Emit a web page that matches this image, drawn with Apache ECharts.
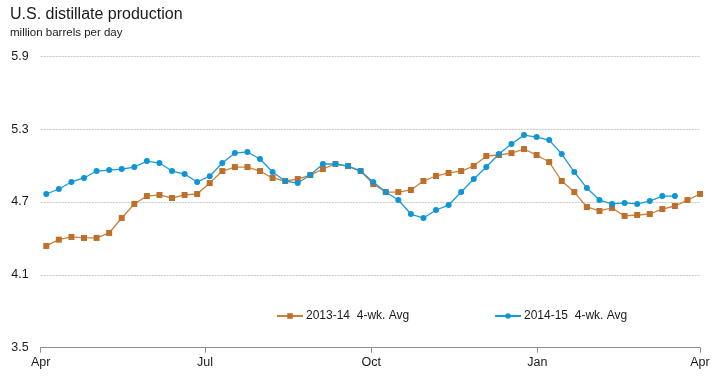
<!DOCTYPE html>
<html>
<head>
<meta charset="utf-8">
<script src="https://cdn.jsdelivr.net/npm/echarts@6/dist/echarts.min.js"></script>
<style>
html,body{margin:0;padding:0;background:#fff;}
#chart{width:719px;height:385px;}
</style>
</head>
<body>
<div id="chart"></div>
<script>
// Tick labels (month boundaries, in days from Apr 1)
const monthLabels = ['Apr', 'Jul', 'Oct', 'Jan', 'Apr'];
const monthTickDays = [0, 91, 183, 275, 365];
const yTicks = [3.5, 4.1, 4.7, 5.3, 5.9];

// Series values (million barrels per day), weekly 4-week averages
const series1314 = [4.338, 4.390, 4.412, 4.404, 4.404, 4.445, 4.568, 4.684, 4.749, 4.758,
  4.733, 4.758, 4.766, 4.856, 4.955, 4.988, 4.988, 4.955, 4.898, 4.873,
  4.889, 4.922, 4.972, 5.013, 4.996, 4.955, 4.848, 4.782, 4.782, 4.799,
  4.873, 4.914, 4.939, 4.955, 4.996, 5.079, 5.087, 5.103, 5.136, 5.087,
  5.029, 4.873, 4.782, 4.659, 4.626, 4.651, 4.585, 4.593, 4.601, 4.642,
  4.667, 4.716, 4.766];
const series1415 = [4.766, 4.807, 4.865, 4.898, 4.955, 4.963, 4.971, 4.988, 5.037, 5.021,
  4.955, 4.930, 4.865, 4.912, 5.021, 5.103, 5.112, 5.054, 4.947, 4.873,
  4.856, 4.922, 5.013, 5.013, 4.996, 4.955, 4.865, 4.782, 4.716, 4.601,
  4.568, 4.634, 4.675, 4.782, 4.889, 4.988, 5.095, 5.177, 5.251, 5.235,
  5.210, 5.095, 4.947, 4.815, 4.716, 4.684, 4.692, 4.684, 4.708, 4.749,
  4.749];
const seriesNames = ['2013-14  4-wk. Avg', '2014-15  4-wk. Avg'];

// week positions on the day axis
const firstWeekDay = 3.1;
const daysPerWeek = 6.96;
const toXY = arr => arr.map((v, i) => [firstWeekDay + i * daysPerWeek, v]);

const FONT = '"Liberation Sans", Arial, sans-serif';
const chart = echarts.init(document.getElementById('chart'), null, {renderer: 'canvas'});
chart.setOption({
  animation: false,
  backgroundColor: '#ffffff',
  title: [
    {text: 'U.S. distillate production', left: 10, top: 7, padding: 0,
     textStyle: {fontFamily: FONT, fontSize: 16, fontWeight: 'normal', color: '#1a1a1a'}},
    {text: 'million barrels per day', left: 10, top: 27, padding: 0,
     textStyle: {fontFamily: FONT, fontSize: 11.5, fontWeight: 'normal', color: '#1a1a1a'}}
  ],
  legend: [
    {data: [seriesNames[0]], left: 271, top: 305, itemWidth: 26, itemHeight: 7, itemGap: 4,
     textStyle: {fontFamily: FONT, fontSize: 12, color: '#1a1a1a', padding: [0,0,0,-2]}},
    {data: [seriesNames[1]], left: 489, top: 305, itemWidth: 26, itemHeight: 7, itemGap: 4,
     textStyle: {fontFamily: FONT, fontSize: 12, color: '#1a1a1a', padding: [0,0,0,-2]}}
  ],
  grid: {left: 40.7, right: 19, top: 56.3, bottom: 37.3, containLabel: false},
  xAxis: {
    type: 'value', min: 0, max: 365,
    axisLine: {show: true, lineStyle: {color: '#8c8c8c', width: 1}},
    axisTick: {show: true, customValues: monthTickDays, length: 5, lineStyle: {color: '#8c8c8c'}},
    axisLabel: {customValues: monthTickDays, margin: 8,
      formatter: (v) => monthLabels[monthTickDays.indexOf(v)] || '',
      fontFamily: FONT, fontSize: 12.5, color: '#1a1a1a'},
    splitLine: {show: false}
  },
  yAxis: {
    type: 'value', min: 3.5, max: 5.9, interval: 0.6,
    axisLine: {show: false}, axisTick: {show: false},
    axisLabel: {margin: 12, fontFamily: FONT, fontSize: 12.5, color: '#1a1a1a',
      formatter: v => yTicks.includes(Math.round(v*10)/10) ? v.toFixed(1) : ''},
    splitLine: {show: true, lineStyle: {color: '#c8c8c8', type: [2, 1], width: 1}}
  },
  series: [
    {name: seriesNames[0], type: 'line', data: toXY(series1314),
     symbol: 'rect', symbolSize: 6, showAllSymbol: true,
     lineStyle: {color: '#c8843f', width: 1.3},
     itemStyle: {color: '#bf6f29'}},
    {name: seriesNames[1], type: 'line', data: toXY(series1415),
     symbol: 'circle', symbolSize: 6, showAllSymbol: true,
     lineStyle: {color: '#1a9bd7', width: 1.3},
     itemStyle: {color: '#0f95d6'}}
  ]
});
</script>
</body>
</html>
